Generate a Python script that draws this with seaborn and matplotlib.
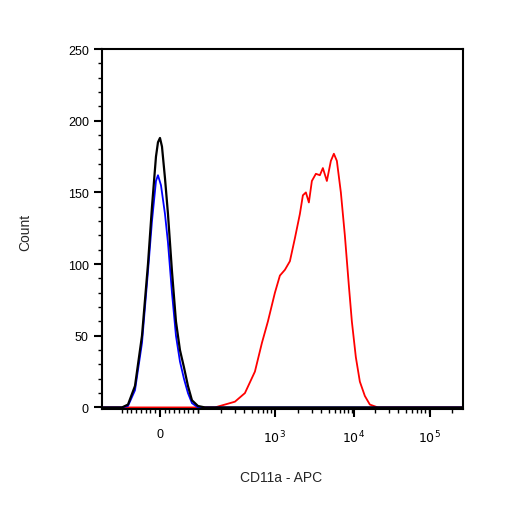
import numpy as np
import pandas as pd
import matplotlib.pyplot as plt
import seaborn as sns

sns.set_style("ticks")
plt.rcParams['font.family'] = ['Liberation Sans', 'DejaVu Sans']

# x positions on the display (biexponential) scale, 0..361
black_x = [0, 20, 26, 33, 40, 46, 50, 54, 56, 58, 60, 63, 66, 70, 74, 78, 82, 86, 90, 96, 103, 361]
black_y = [0, 0, 2, 15, 50, 100, 140, 175, 185, 188, 182, 160, 135, 95, 60, 40, 28, 15, 5, 1, 0, 0]
blue_x = [0, 20, 26, 33, 40, 46, 50, 54, 56, 59, 63, 66, 70, 74, 78, 82, 86, 90, 96, 361]
blue_y = [0, 0, 1, 12, 45, 95, 130, 158, 162, 155, 135, 115, 80, 50, 32, 20, 10, 3, 0, 0]
red_x = [0, 113, 123, 133, 143, 153, 160, 166, 173, 178, 183, 188, 193, 198, 201, 204, 207, 210,
         214, 218, 221, 225, 229, 232, 235, 239, 243, 247, 250, 254, 258, 263, 268, 276, 361]
red_y = [0, 0, 2, 4, 10, 25, 45, 60, 80, 92, 96, 102, 118, 135, 148, 150, 143, 158,
         163, 162, 167, 158, 172, 177, 172, 150, 120, 85, 60, 35, 18, 8, 2, 0, 0]

tick_pos = [58, 173, 252, 328]
tick_lab = ['0', '$10^3$', '$10^4$', '$10^5$']
zero_pos, dec = 58, 77

fig = plt.figure(figsize=(5.06, 5.06), dpi=100)
ax = fig.add_axes([0.2016, 0.19, 0.713, 0.711])

sns.lineplot(x=red_x, y=red_y, color='#ff0000', lw=1.3, ax=ax)
sns.lineplot(x=blue_x, y=blue_y, color='#0000ff', lw=1.3, ax=ax)
sns.lineplot(x=black_x, y=black_y, color='black', lw=1.6, ax=ax)

ax.set_xlim(0, 361)
ax.set_ylim(-1, 250)
ax.set_yticks([0, 50, 100, 150, 200, 250])
ax.set_yticks(np.arange(0, 251, 10), minor=True)
ax.set_xticks(tick_pos)
ax.set_xticklabels(tick_lab)
# minor ticks: linear around zero, log above 10^2
minor = list(np.linspace(zero_pos - 38, zero_pos + 38, 17))
for d in range(2, 5):
    base = zero_pos + 38 + (d - 2) * dec
    minor += [base + dec * np.log10(k) for k in range(1, 10)]
minor += [zero_pos + 38 + 3 * dec + dec * np.log10(k) for k in range(1, 3)]
ax.set_xticks([m for m in minor if m < 361], minor=True)

for s in ax.spines.values():
    s.set_color('black')
    s.set_linewidth(1.5)
ax.tick_params(which='major', direction='out', length=6, width=1.5, colors='black', labelsize=9,
               bottom=True, left=True)
ax.tick_params(which='minor', direction='out', length=3, width=1, colors='black',
               bottom=True, left=True)
ax.tick_params(axis='x', pad=8)

fig.text(0.05, 0.54, 'Count', rotation=90, ha='center', va='center', fontsize=10)
fig.text(0.555, 0.055, 'CD11a - APC', ha='center', va='center', fontsize=10)

fig.savefig('out.png', dpi=100)
